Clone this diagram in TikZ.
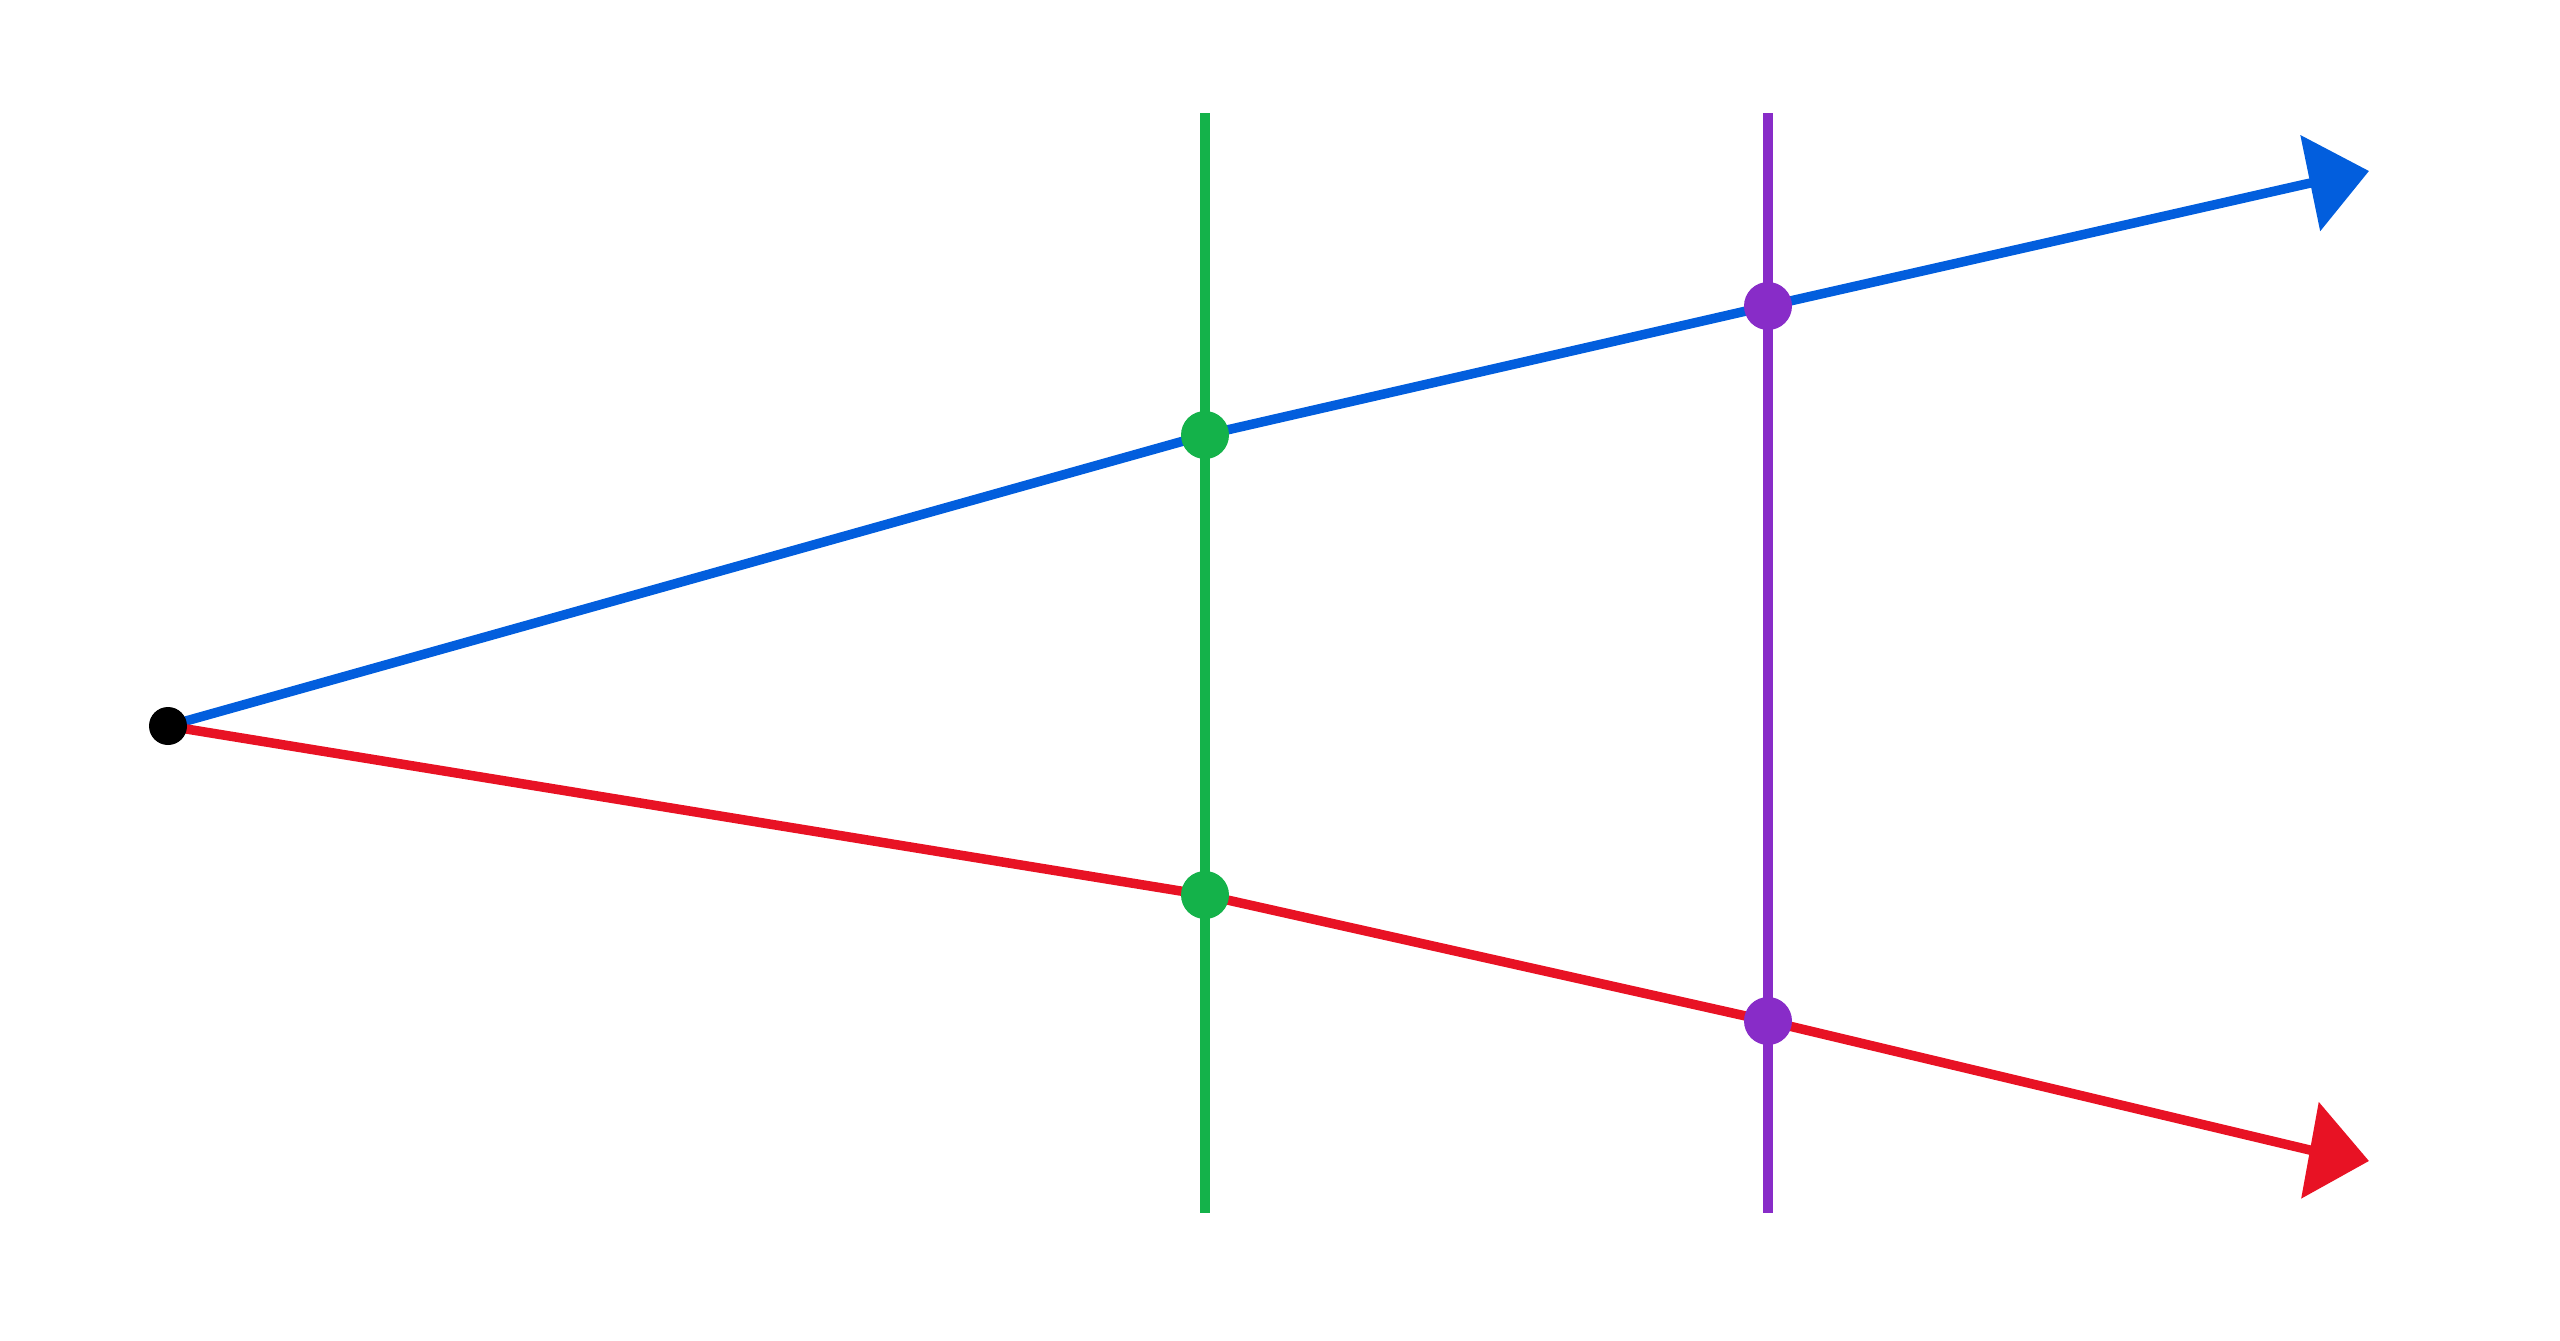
\documentclass[tikz,border=0pt]{standalone}
\usetikzlibrary{arrows.meta}
\definecolor{cblue}{RGB}{2,94,221}
\definecolor{cgreen}{RGB}{20,178,74}
\definecolor{cred}{RGB}{232,18,36}
\definecolor{cpurple}{RGB}{136,44,200}
\begin{document}
\begin{tikzpicture}[x=0.1mm,y=-0.1mm,
  ray/.style={line width=0.95mm, line join=round},
  vline/.style={line width=1mm},
  dot/.style={circle, inner sep=0pt, minimum size=4.8mm},
  tip/.style={-{Triangle[length=6mm,width=9.6mm]}}]
\useasboundingbox (0,0) rectangle (2560,1341);
\coordinate (O) at (168,726);
\coordinate (GB) at (1205,435);
\coordinate (PB) at (1768,306);
\coordinate (GR) at (1205,895);
\coordinate (PR) at (1768,1021);
\coordinate (BB) at (2306,184);
\coordinate (BT) at (2369,171);
\coordinate (RB) at (2314,1151);
\coordinate (RT) at (2369,1161);
\coordinate (gtop) at (1205,113);
\coordinate (gbot) at (1205,1213);
\coordinate (ptop) at (1768,113);
\coordinate (pbot) at (1768,1213);
\draw[vline, cgreen] (gtop) -- (gbot);
\draw[vline, cpurple] (ptop) -- (pbot);
\draw[ray, cblue, tip] (O) -- (GB) -- (PB) -- (BB) -- (BT);
\draw[ray, cred, tip] (O) -- (GR) -- (PR) -- (RB) -- (RT);
\node[dot, minimum size=3.8mm, fill=black] (o) at (O) {};
\node[dot, fill=cgreen] (gb) at (GB) {};
\node[dot, fill=cpurple] (pb) at (PB) {};
\node[dot, fill=cgreen] (gr) at (GR) {};
\node[dot, fill=cpurple] (pr) at (PR) {};
\end{tikzpicture}
\end{document}
